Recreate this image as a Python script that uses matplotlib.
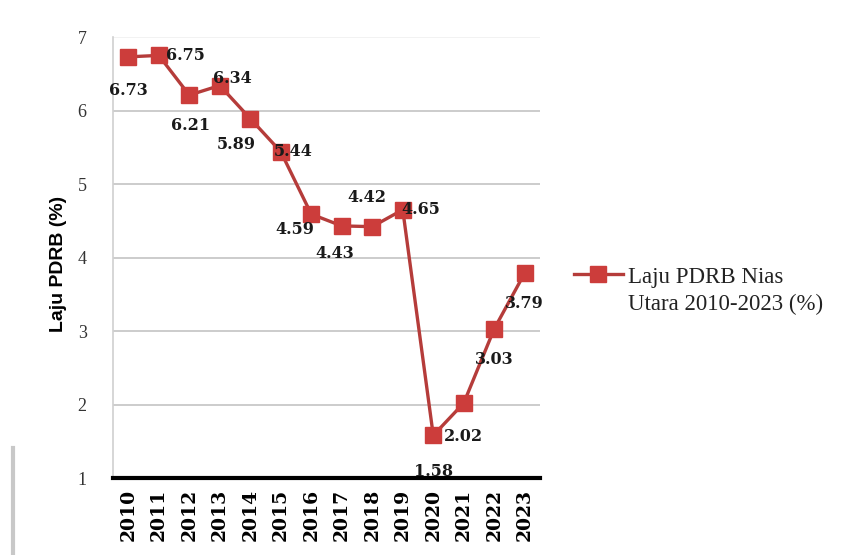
import matplotlib.pyplot as plt
from matplotlib.lines import Line2D
from matplotlib.legend_handler import HandlerLine2D

# Laju PDRB Nias Utara 2010-2023 (%)
years = [str(y) for y in range(2010, 2024)]
laju = [6.73, 6.75, 6.21, 6.34, 5.89, 5.44, 4.59, 4.43, 4.42, 4.65, 1.58, 2.02, 3.03, 3.79]
labels = ['6.73', '6.75', '6.21', '6.34', '5.89', '5.44', '4.59', '4.43', '4.42', '4.65', '1.58', '2.02', '3.03', '3.79']

# label offsets in points (dx, dy), like Excel's label placement
label_off = [(0, -24), (19, 0), (1, -22), (9, 5), (-10, -19), (9, 0), (-12, -11),
             (-5, -20), (-4, 21), (13, 0), (0, -26), (0, -24), (0, -22), (0, -22)]

red_line = '#b53c3a'
red_face = '#cc3d3b'


class FirstLineHandler(HandlerLine2D):
    # put the legend marker next to the first line of a two-line label
    def create_artists(self, legend, orig_handle, xdescent, ydescent, width, height, fontsize, trans):
        return super().create_artists(legend, orig_handle, xdescent, ydescent - 24,
                                      width, height, fontsize, trans)


fig = plt.figure(figsize=(8.46, 5.55), dpi=100)
ax = fig.add_axes([0.1336, 0.1387, 0.5047, 0.7946])

x = list(range(len(years)))
line, = ax.plot(x, laju, color=red_line, linewidth=2.4, marker='s', markersize=12,
                markerfacecolor=red_face, markeredgecolor=red_face, zorder=3,
                label='Laju PDRB Nias\nUtara 2010-2023 (%)')

for xi, v, lab, (dx, dy) in zip(x, laju, labels, label_off):
    ax.annotate(lab, (xi, v), xytext=(dx, dy), textcoords='offset points',
                ha='center', va='center', fontsize=11.5, fontweight='bold',
                family='DejaVu Serif', color='#1a1a1a', zorder=4)

ax.set_xlim(-0.5, len(years) - 0.5)
ax.set_ylim(1, 7)
ax.set_yticks(range(1, 8))
ax.grid(axis='y', color='#c4c4c4', linewidth=1.2)
ax.get_ygridlines()[-1].set_color('#f0f0f0')
ax.set_axisbelow(True)

for s in ['top', 'right']:
    ax.spines[s].set_visible(False)
ax.spines['left'].set_color('#d0d0d0')
ax.spines['left'].set_linewidth(1.2)
ax.spines['bottom'].set_color('black')
ax.spines['bottom'].set_linewidth(3)

ax.set_xticks(x)
ax.set_xticklabels(years, rotation=90, fontsize=13.5, fontweight='bold',
                   family='DejaVu Serif')
ax.tick_params(axis='x', length=0, pad=8)
ax.tick_params(axis='y', length=0, pad=19, labelsize=13)
for t in ax.get_yticklabels():
    t.set_family('Liberation Serif')
    t.set_color('#333333')

ax.set_ylabel('Laju PDRB (%)', fontsize=14, fontweight='bold', family='Liberation Sans')
ax.yaxis.set_label_coords(-0.108, 0.485)

leg = ax.legend(loc='center left', bbox_to_anchor=(0.679, 0.476), bbox_transform=fig.transFigure,
                frameon=False, handlelength=2.1, handletextpad=0.25, borderpad=0,
                borderaxespad=0, prop={'family': 'Liberation Serif', 'size': 16.5},
                handler_map={line: FirstLineHandler()})
for t in leg.get_texts():
    t.set_linespacing(1.35)
    t.set_color('#222222')

# faint edge line at the left of the picture
fig.add_artist(Line2D([13 / 846, 13 / 846], [0, 1 - 448 / 555], color='#c8c8c8', linewidth=3))

fig.savefig('out.png', dpi=100)
